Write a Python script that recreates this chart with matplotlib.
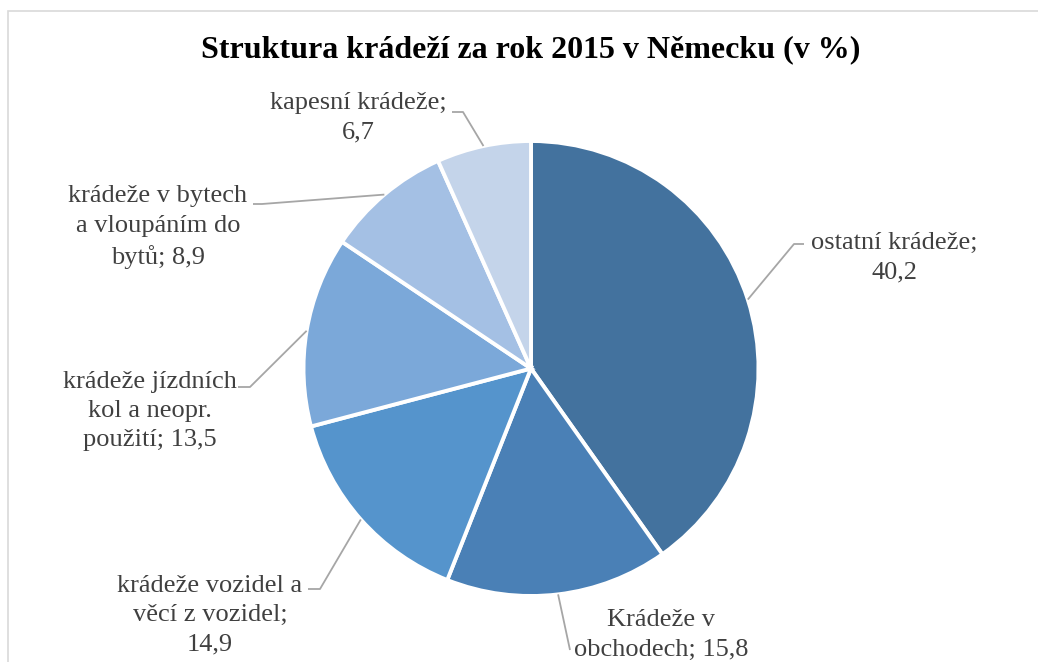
import numpy as np
import matplotlib.pyplot as plt
from matplotlib.patches import Rectangle

W, H = 1038, 662

# data
labels = ["ostatní krádeže;\n40,2",
          "Krádeže v\nobchodech; 15,8",
          "krádeže vozidel a\nvěcí z vozidel;\n14,9",
          "krádeže jízdních\nkol a neopr.\npoužití; 13,5",
          "krádeže v bytech\na vloupáním do\nbytů; 8,9",
          "kapesní krádeže;\n6,7"]
values = [40.2, 15.8, 14.9, 13.5, 8.9, 6.7]
colors = ["#43729e", "#4a80b6", "#5594cc", "#7ba8d9", "#a4c0e4", "#c4d4ea"]

# label layout in pixels (centre of text block), leader start and knee
label_xy = [(894, 258), (661, 635), (210, 615), (150, 411), (158, 227), (358, 118)]
leader_start = [(804, 244), (570, 650), (308, 589), (238, 387), (253, 204), (452, 112)]
leader_knee = [(794, 244), (570, 650), (320, 589), (250, 387), (262, 204), (463, 112)]

cx, cy, r = 531, 368.5, 227.5

plt.rcParams['font.family'] = ['Liberation Serif', 'DejaVu Serif']

fig = plt.figure(figsize=(W / 100, H / 100), dpi=100)
ax = fig.add_axes([0, 0, 1, 1])

wedges, _ = ax.pie(values, colors=colors, startangle=90, counterclock=False,
                   center=(cx, H - cy), radius=r,
                   wedgeprops=dict(edgecolor="white", linewidth=2.8))
ax.set_xlim(0, W)
ax.set_ylim(0, H)
ax.set_aspect('equal')
ax.axis('off')

# frame of the chart area
ax.add_patch(Rectangle((8, -20), W + 20, H - 11 + 20, fill=False,
                       edgecolor="#d9d9d9", linewidth=1.2))

ax.text(cx, H - 50, "Struktura krádeží za rok 2015 v Německu (v %)",
        ha="center", va="center", fontsize=23, fontweight="bold", color="black")

for w, lab, (lx, ly), (sx, sy), (kx, ky) in zip(wedges, labels, label_xy,
                                                leader_start, leader_knee):
    ang = np.deg2rad((w.theta1 + w.theta2) / 2)
    ex = cx + r * np.cos(ang)
    ey = (H - cy) + r * np.sin(ang)
    ax.plot([sx, kx, ex], [H - sy, H - ky, ey], color="#a6a6a6", linewidth=1.3,
            solid_capstyle="butt")
    ax.text(lx, H - ly, lab, ha="center", va="center", fontsize=19,
            color="#404040", linespacing=1.42)

fig.savefig("out.png", dpi=100)
